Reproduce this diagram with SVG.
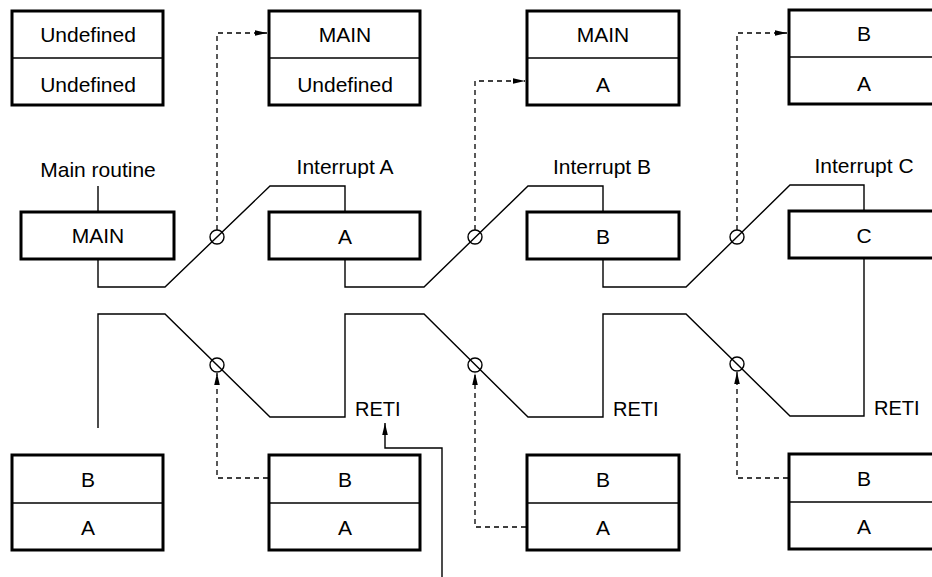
<svg xmlns="http://www.w3.org/2000/svg" width="932" height="577" viewBox="0 0 932 577">
<style>
.box{fill:#fff;stroke:#000;stroke-width:3}
.div{stroke:#000;stroke-width:1.3;fill:none}
.sig{fill:none;stroke:#000;stroke-width:1.4}
.dash{fill:none;stroke:#000;stroke-width:1.3;stroke-dasharray:5,4}
.solid{fill:none;stroke:#000;stroke-width:1.4}
.circ{fill:none;stroke:#000;stroke-width:1.4}
text{font-family:"Liberation Sans",Arial,sans-serif;font-size:21px;fill:#000}
.c{text-anchor:middle}
.r{font-size:20px}
</style>
<defs>
<marker id="arr" markerUnits="userSpaceOnUse" markerWidth="13" markerHeight="8" refX="12" refY="4" orient="auto">
<path d="M0,1.2 L12,4 L0,6.8 Z" fill="#000"/>
</marker>
</defs>
<rect width="932" height="577" fill="#fff"/>

<g id="stack0">
<rect class="box" x="12" y="11" width="151" height="94"/>
<line class="div" x1="12" y1="58" x2="163" y2="58"/>
<text class="c" x="88" y="42">Undefined</text>
<text class="c" x="88" y="92">Undefined</text>
</g>
<g id="stack1">
<rect class="box" x="269" y="11" width="151" height="94"/>
<line class="div" x1="269" y1="58" x2="420" y2="58"/>
<text class="c" x="345" y="42">MAIN</text>
<text class="c" x="345" y="92">Undefined</text>
</g>
<g id="stack2">
<rect class="box" x="527" y="11" width="152" height="94"/>
<line class="div" x1="527" y1="58" x2="679" y2="58"/>
<text class="c" x="603" y="42">MAIN</text>
<text class="c" x="603" y="92">A</text>
</g>
<g id="stack3">
<rect class="box" x="789" y="10" width="154" height="94"/>
<line class="div" x1="789" y1="57" x2="943" y2="57"/>
<text class="c" x="864" y="41">B</text>
<text class="c" x="864" y="91">A</text>
</g>

<g id="main">
<rect class="box" x="21" y="212" width="153" height="47"/>
<text class="c" x="98" y="243">MAIN</text>
</g>
<g id="intA">
<rect class="box" x="269" y="212" width="151" height="47"/>
<text class="c" x="345" y="244">A</text>
</g>
<g id="intB">
<rect class="box" x="527" y="212" width="152" height="47"/>
<text class="c" x="603" y="244">B</text>
</g>
<g id="intC">
<rect class="box" x="789" y="211" width="154" height="47"/>
<text class="c" x="864" y="243">C</text>
</g>

<g id="stack4">
<rect class="box" x="12" y="455" width="151" height="95"/>
<line class="div" x1="12" y1="503" x2="163" y2="503"/>
<text class="c" x="88" y="487">B</text>
<text class="c" x="88" y="535">A</text>
</g>
<g id="stack5">
<rect class="box" x="269" y="455" width="151" height="95"/>
<line class="div" x1="269" y1="503" x2="420" y2="503"/>
<text class="c" x="345" y="487">B</text>
<text class="c" x="345" y="535">A</text>
</g>
<g id="stack6">
<rect class="box" x="527" y="455" width="152" height="95"/>
<line class="div" x1="527" y1="503" x2="679" y2="503"/>
<text class="c" x="603" y="487">B</text>
<text class="c" x="603" y="535">A</text>
</g>
<g id="stack7">
<rect class="box" x="789" y="454" width="154" height="95"/>
<line class="div" x1="789" y1="502" x2="943" y2="502"/>
<text class="c" x="864" y="486">B</text>
<text class="c" x="864" y="534">A</text>
</g>

<g id="labels">
<text class="c" x="98" y="177">Main routine</text>
<text class="c" x="345" y="174">Interrupt A</text>
<text class="c" x="602" y="174">Interrupt B</text>
<text class="c" x="864" y="173">Interrupt C</text>
<text class="r" x="355" y="416">RETI</text>
<text class="r" x="613" y="416">RETI</text>
<text class="r" x="874" y="415">RETI</text>
</g>

<g id="connectors">
<path class="sig" d="M98,186 V212"/>
<path class="sig" d="M98,259 V287 H165 L270,186 H345 V212"/>
<path class="sig" d="M345,259 V287 H424 L528,186 H603 V212"/>
<path class="sig" d="M603,259 V287 H686 L790,185 H864 V211"/>
<path class="sig" d="M864,258 V416 H790 L686,314 H603 V417 H528 L424,314 H345 V417 H270 L165,314 H98 V428"/>
<circle class="circ" cx="217" cy="237" r="7"/>
<circle class="circ" cx="475" cy="237" r="7"/>
<circle class="circ" cx="737" cy="237" r="7"/>
<circle class="circ" cx="217" cy="365" r="7"/>
<circle class="circ" cx="475" cy="365" r="7"/>
<circle class="circ" cx="737" cy="364" r="7"/>
<path class="dash" d="M217,230 V33 H267" marker-end="url(#arr)"/>
<path class="dash" d="M475,230 V81 H525" marker-end="url(#arr)"/>
<path class="dash" d="M737,230 V33 H787" marker-end="url(#arr)"/>
<path class="dash" d="M268,478 H217 V373" marker-end="url(#arr)"/>
<path class="dash" d="M526,527 H475 V373" marker-end="url(#arr)"/>
<path class="dash" d="M788,478 H737 V372" marker-end="url(#arr)"/>
<path class="solid" d="M442,577 V448 H385 V423" marker-end="url(#arr)"/>
</g>
</svg>
